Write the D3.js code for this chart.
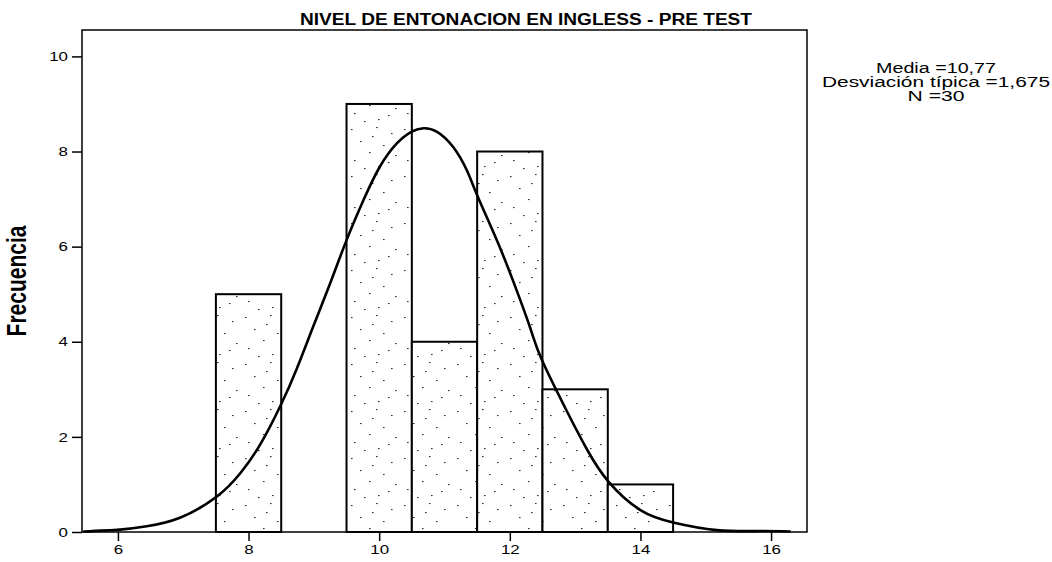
<!DOCTYPE html>
<html>
<head>
<meta charset="utf-8">
<script src="https://cdn.jsdelivr.net/npm/d3@7"></script>
<style>
  body { margin: 0; background: #fff; }
  text { font-family: "Liberation Sans", Arial, sans-serif; fill: #000; }
</style>
</head>
<body>
<div id="hist-div"></div>
<script>
// bins (centre of each 1-unit bin) and their counts
var binCenters = [8, 10, 11, 12, 13, 14];
var binCounts  = [5, 9, 4, 8, 3, 1];

// normal curve
var curveX = [5.47, 6.03, 6.44, 6.95, 7.51, 7.87, 8.17, 8.49, 8.74, 8.99, 9.25, 9.49, 9.76, 10.01, 10.27, 10.50, 10.68, 10.88, 11.13, 11.34, 11.51, 11.80, 12.05, 12.31, 12.49, 12.87, 13.18, 13.51, 14.00, 14.50, 15.17, 15.83, 16.30];
var curveY = [0.01, 0.05, 0.12, 0.30, 0.74, 1.23, 1.82, 2.66, 3.44, 4.32, 5.23, 6.10, 6.98, 7.68, 8.17, 8.42, 8.49, 8.42, 8.10, 7.61, 7.05, 6.14, 5.28, 4.30, 3.62, 2.55, 1.74, 1.06, 0.46, 0.20, 0.04, 0.02, 0.01];

var xTicks = [6, 8, 10, 12, 14, 16];
var yTicks = [0, 2, 4, 6, 8, 10];

var titleText = "NIVEL DE ENTONACION EN INGLESS - PRE TEST";
var yLabel = "Frecuencia";
var statLines = ["Media =10,77", "Desviación típica =1,675", "N =30"];

var W = 1052, H = 562;
var margin = { top: 30, right: 245, bottom: 30, left: 82 };
var width = W - margin.left - margin.right;   // 725
var height = H - margin.top - margin.bottom;  // 502
var sx = 1.3; // picture is stretched sideways

var svg = d3.select("#hist-div")
  .append("svg")
    .attr("width", W)
    .attr("height", H);

// speckled fill of the bars
var pat = svg.append("defs").append("pattern")
  .attr("id", "speckle")
  .attr("patternUnits", "userSpaceOnUse")
  .attr("width", 53)
  .attr("height", 47);
pat.append("rect").attr("width", 53).attr("height", 47).attr("fill", "#fff");
[[4, 5], [29, 3], [44, 9], [13, 17], [36, 21], [22, 28], [48, 31], [7, 36], [31, 42], [17, 44], [41, 38], [25, 12]].forEach(function (p) {
  pat.append("rect")
    .attr("x", p[0]).attr("y", p[1])
    .attr("width", 1.6).attr("height", 1.1)
    .attr("fill", "#333");
});

var g = svg.append("g")
  .attr("transform", "translate(" + margin.left + "," + margin.top + ")");

var x = d3.scaleLinear()
  .domain([5.45, 16.55])
  .range([0, width]);

var y = d3.scaleLinear()
  .domain([0, 10.555])
  .range([height, 0]);

// bars
g.append("g")
  .selectAll("rect")
  .data(binCenters)
  .enter()
    .append("rect")
    .attr("x", (d) => x(d - 0.5))
    .attr("y", (d, i) => y(binCounts[i]))
    .attr("width", (d) => x(d + 0.5) - x(d - 0.5))
    .attr("height", (d, i) => y(0) - y(binCounts[i]))
    .attr("fill", "url(#speckle)")
    .attr("stroke", "#000")
    .attr("stroke-width", 2);

// normal curve
var line = d3.line()
  .x((d, i) => x(curveX[i]))
  .y((d) => y(d))
  .curve(d3.curveNatural);

g.append("path")
  .datum(curveY)
  .attr("d", line)
  .attr("fill", "none")
  .attr("stroke", "#000")
  .attr("stroke-width", 2.6);

// frame
g.append("rect")
  .attr("width", width)
  .attr("height", height)
  .attr("fill", "none")
  .attr("stroke", "#000")
  .attr("stroke-width", 1.5);

// Y axis
var yAxis = g.append("g")
  .call(d3.axisLeft(y)
    .tickValues(yTicks)
    .tickSize(10)
    .tickSizeOuter(0)
    .tickPadding(4));
yAxis.select(".domain").remove();
yAxis.selectAll("line").attr("stroke-width", 1.5);
yAxis.selectAll("text")
  .attr("transform", "scale(" + sx + ",1)")
  .attr("x", -14 / sx)
  .style("font-size", "13px")
  .style("font-family", "Liberation Sans, Arial, sans-serif");

// X axis
var xAxis = g.append("g")
  .attr("transform", "translate(0," + height + ")")
  .call(d3.axisBottom(x)
    .tickValues(xTicks)
    .tickSize(9)
    .tickSizeOuter(0)
    .tickPadding(4));
xAxis.select(".domain").remove();
xAxis.selectAll("line").attr("stroke-width", 1.5);
xAxis.selectAll("text")
  .attr("transform", "scale(" + sx + ",1)")
  .style("font-size", "13px")
  .style("font-family", "Liberation Sans, Arial, sans-serif");

// title
svg.append("text")
  .attr("x", 526)
  .attr("y", 25)
  .attr("text-anchor", "middle")
  .attr("textLength", 452)
  .attr("lengthAdjust", "spacingAndGlyphs")
  .style("font-size", "16px")
  .style("font-weight", "bold")
  .text(titleText);

// y label
svg.append("text")
  .attr("transform", "translate(26," + (margin.top + height / 2) + ") scale(" + sx + ",1) rotate(-90)")
  .attr("text-anchor", "middle")
  .style("font-size", "21px")
  .style("font-weight", "bold")
  .text(yLabel);

// stats box text
var statWidths = [120, 228, 57];
svg.append("g")
  .selectAll("text")
  .data(statLines)
  .enter()
    .append("text")
    .attr("x", 936)
    .attr("y", (d, i) => 73 + i * 14)
    .attr("text-anchor", "middle")
    .attr("textLength", (d, i) => statWidths[i])
    .attr("lengthAdjust", "spacingAndGlyphs")
    .style("font-size", "14px")
    .text((d) => d);
</script>
</body>
</html>
